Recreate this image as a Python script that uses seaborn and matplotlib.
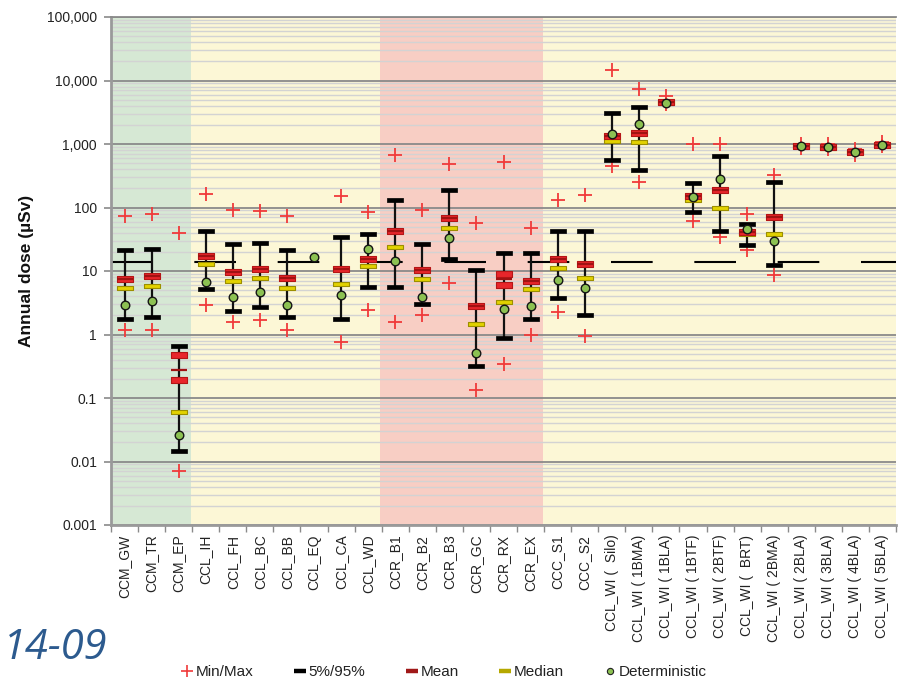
import numpy as np
import pandas as pd
import matplotlib
matplotlib.use("Agg")
import matplotlib.pyplot as plt
from matplotlib.lines import Line2D
from matplotlib.ticker import FixedLocator, NullFormatter
import seaborn as sns

# ---- data -----------------------------------------------------------------
cases = [
    "CCM_GW", "CCM_TR", "CCM_EP",
    "CCL_IH", "CCL_FH", "CCL_BC", "CCL_BB", "CCL_EQ", "CCL_CA", "CCL_WD",
    "CCR_B1", "CCR_B2", "CCR_B3", "CCR_GC", "CCR_RX", "CCR_EX",
    "CCC_S1", "CCC_S2",
    "CCL_WI (  Silo)", "CCL_WI ( 1BMA)", "CCL_WI ( 1BLA)", "CCL_WI ( 1BTF)",
    "CCL_WI ( 2BTF)", "CCL_WI (  BRT)", "CCL_WI ( 2BMA)", "CCL_WI ( 2BLA)",
    "CCL_WI ( 3BLA)", "CCL_WI ( 4BLA)", "CCL_WI ( 5BLA)",
]
nan = np.nan
dose_max = [73, 79, 40, 161, 91, 88, 73, nan, 151, 86,
            664, 93, 491, 57.5, 527, 48, 133, 155,
            14900, 7480, 5700, 1000, 1000, 79, 329, 1000, 990, 830, 1060]
dose_p95 = [21.2, 22.6, 0.66, 42.5, 26.2, 27.8, 21.2, nan, 34.2, 38.6,
            129, 26.8, 188, 10.2, 19.4, 19.4, 42, 42,
            3090, 3800, 4600, 243, 656, 55, 255, 950, 920, 760, 1000]
dose_mean = [7.6, 8.3, 0.276, 17.5, 9.7, 10.6, 7.7, nan, 10.6, 15.6,
             42.5, 10.3, 69, 2.86, 7.52, 7.08, 15.6, 13.0,
             1360, 1495, 4550, 150, 191, 40.6, 71.7, 930, 890, 745, 980]
dose_median = [5.4, 5.77, 0.06, 13.1, 7.0, 7.8, 5.4, nan, 6.35, 12.2,
               23.8, 7.5, 47.4, 1.49, 3.22, 5.17, 11.1, 7.7,
               1130, 1065, 4500, 130, 98, 37.8, 37.8, 925, 870, 735, 970]
dose_det = [2.96, 3.34, 0.0264, 6.83, 3.87, 4.69, 2.96, 16.8, 4.26, 22.6,
            14.3, 3.87, 33.4, 0.506, 2.53, 2.86, 7.1, 5.37,
            1460, 2050, 4500, 148, 281, 45.8, 29.3, 930, 898, 748, 977]
dose_p5 = [1.78, 1.91, 0.0149, 5.17, 2.32, 2.69, 1.87, nan, 1.78, 5.7,
           5.7, 3.03, 15.6, 0.323, 0.893, 1.78, 3.73, 2.04,
           567, 385, 4400, 83.8, 42, 26, 12.6, 910, 880, 735, 955]
dose_min = [1.19, 1.19, 0.00714, 2.93, 1.58, 1.72, 1.17, nan, 0.76, 2.47,
            1.56, 2.06, 6.5, 0.132, 0.348, 1.0, 2.24, 0.95,
            445, 249, 4200, 62, 34.2, 21.7, 8.75, 860, 840, 680, 930]
# cases whose mean marker splits into a lower/upper pair
mean_pairs = {"CCM_EP": (0.195, 0.476), "CCR_RX": (6.05, 9.1)}
dose_constraint = 14  # µSv per year

# shaded case groups: (first case, last case, colour)
groups = [("CCM_GW", "CCM_EP", "#d6e8d4"),
          ("CCL_IH", "CCL_WD", "#fcf7d6"),
          ("CCR_B1", "CCR_EX", "#f8cec4"),
          ("CCC_S1", "CCL_WI ( 5BLA)", "#fcf7d6")]

y_ticks = [1e-3, 1e-2, 1e-1, 1, 10, 100, 1e3, 1e4, 1e5]
y_ticklabels = ["0.001", "0.01", "0.1", "1", "10", "100", "1,000", "10,000", "100,000"]

# ---- figure ---------------------------------------------------------------
sns.set_theme(style="white")
plt.rcParams["font.family"] = ["Liberation Sans", "DejaVu Sans"]

fig = plt.figure(figsize=(9.1, 6.84), dpi=100)
ax = fig.add_axes([111 / 910, 1 - 525 / 684, 785 / 910, 508 / 684])

df = pd.DataFrame({
    "case": cases, "max": dose_max, "p95": dose_p95, "mean": dose_mean,
    "median": dose_median, "det": dose_det, "p5": dose_p5, "min": dose_min,
})
df["pos"] = np.arange(len(cases))
pos_of = dict(zip(df["case"], df["pos"]))

ax.set_yscale("log")
ax.set_ylim(1e-3, 1e5)
ax.set_xlim(-0.5, len(cases) - 0.5)

for first, last, col in groups:
    ax.axvspan(pos_of[first] - 0.55, pos_of[last] + 0.45, color=col, lw=0, zorder=0)
ax.axvspan(len(cases) - 1, len(cases) - 0.5, color="#fcf7d6", lw=0, zorder=0)

# horizontal grid
ax.yaxis.set_major_locator(FixedLocator(y_ticks))
ax.yaxis.set_minor_locator(FixedLocator(
    [m * 10.0 ** e for e in range(-3, 5) for m in range(2, 10)]))
ax.yaxis.set_minor_formatter(NullFormatter())
ax.set_axisbelow(True)
ax.grid(which="minor", axis="y", color="#d3d3d3", lw=1.0)
ax.grid(which="major", axis="y", color="#8a8a8a", lw=1.3)
ax.grid(which="both", axis="x", visible=False)

# dose constraint
ax.axhline(dose_constraint, color="black", lw=1.5, dashes=(20, 20), zorder=1.5)

# 5 % - 95 % range
rng = df.dropna(subset=["p5", "p95"])
ax.vlines(rng["pos"], rng["p5"], rng["p95"], color="#111111", lw=1.6, zorder=2)


def bar_marker(h):
    return np.array([(-1, -h), (1, -h), (1, h), (-1, h), (-1, -h)])


# min / max crosses
for col in ["max", "min"]:
    sns.scatterplot(data=df, x="pos", y=col, marker="+", s=95, color="#f03a3a",
                    linewidth=1.3, ax=ax, legend=False, zorder=1.8)

# percentile caps
for col in ["p95", "p5"]:
    sns.scatterplot(data=df, x="pos", y=col, marker=bar_marker(0.28), s=125,
                    color="black", edgecolor="black", linewidth=0.5,
                    ax=ax, legend=False, zorder=3)

# median
sns.scatterplot(data=df, x="pos", y="median", marker=bar_marker(0.22), s=118,
                color="#e2d200", edgecolor="#9c8f00", linewidth=0.8,
                ax=ax, legend=False, zorder=3.2)

# mean (thick red bars, dark centre line)
band = df[["pos", "mean"]].copy()
extra = []
for name, (lo, hi) in mean_pairs.items():
    band = band[band["pos"] != pos_of[name]]
    extra += [(pos_of[name], lo), (pos_of[name], hi)]
band = pd.concat([band, pd.DataFrame(extra, columns=["pos", "mean"])],
                 ignore_index=True)
sns.scatterplot(data=band, x="pos", y="mean", marker=bar_marker(0.36), s=132,
                color="#e8262b", edgecolor="#b51616", linewidth=0.8,
                ax=ax, legend=False, zorder=3.4)
sns.scatterplot(data=df, x="pos", y="mean", marker="_", s=132,
                color="#a01212", linewidth=1.6, ax=ax, legend=False, zorder=3.5)

# deterministic
sns.scatterplot(data=df, x="pos", y="det", marker="o", s=38, color="#8cc152",
                edgecolor="#151515", linewidth=1.0, ax=ax, legend=False, zorder=4)

# axes styling
ax.set_xlabel("")
ax.set_ylabel("Annual dose (µSv)", fontsize=12.5, fontweight="bold", color="#111111")
ax.yaxis.set_label_coords(-0.098, 0.5)
ax.set_yticks(y_ticks)
ax.set_yticklabels(y_ticklabels)
ax.set_xticks(df["pos"])
ax.set_xticklabels(cases, rotation=90)
ax.set_xticks(np.arange(len(cases) + 1) - 0.5, minor=True)
ax.tick_params(axis="x", which="major", length=0, pad=7, labelsize=10, labelcolor="#222222")
ax.tick_params(axis="x", which="minor", length=5, width=1, color="#8a8a8a", bottom=True)
ax.tick_params(axis="y", which="major", length=5, width=1.2, color="#8a8a8a", left=True,
               pad=5, labelsize=10, labelcolor="#222222")
ax.tick_params(axis="y", which="minor", length=0)
ax.spines["right"].set_visible(False)
ax.spines["top"].set_color("#8a8a8a")
ax.spines["top"].set_linewidth(1.3)
for side in ["left", "bottom"]:
    ax.spines[side].set_color("#9a9a9a")
    ax.spines[side].set_linewidth(2.0)

# legend
handles = [
    Line2D([], [], ls="none", marker="+", color="#f03a3a", markersize=9, mew=1.2),
    Line2D([], [], ls="none", marker="_", color="black", markersize=8, mew=3.2),
    Line2D([], [], ls="none", marker="_", color="#a01818", markersize=8, mew=3.2),
    Line2D([], [], ls="none", marker="_", color="#b5a800", markersize=8, mew=3.2),
    Line2D([], [], ls="none", marker="o", color="#8cc152", markeredgecolor="#222222",
           markersize=4.5, mew=0.8),
]
labels = ["Min/Max", "5%/95%", "Mean", "Median", "Deterministic"]
fig.legend(handles, labels, loc="center", bbox_to_anchor=(444 / 910, 1 - 672 / 684),
           ncol=5, frameon=False, fontsize=11, handlelength=0.8, handletextpad=0.15,
           columnspacing=2.65, labelcolor="#222222")

fig.text(3 / 910, 1 - 648 / 684, "14-09", fontsize=30, style="italic", color="#2c5a8e",
         family=["Open Sans", "DejaVu Sans"], ha="left", va="center")

fig.savefig("out.png", dpi=100)
